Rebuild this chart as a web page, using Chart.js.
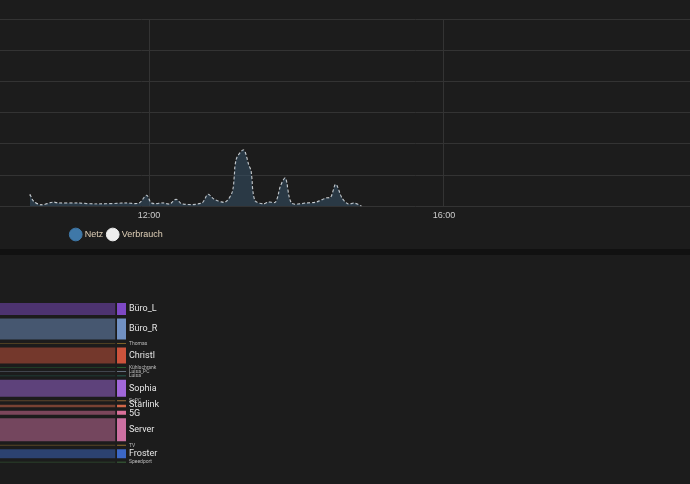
<!DOCTYPE html>
<html>
<head>
<meta charset="utf-8">
<script src="https://cdn.jsdelivr.net/npm/chart.js@4.4.1/dist/chart.umd.min.js"></script>
<style>
  body { margin: 0; background: #111; width: 690px; height: 484px; overflow: hidden; position: relative; font-family: Roboto, sans-serif; }
  .card { position: absolute; left: 0; width: 690px; background: #1c1c1c; overflow: hidden; }
  #top { top: 0; height: 249px; }
  #bottom { top: 255px; height: 229px; }
  #lineWrap { position: absolute; left: -456px; top: 0; width: 1146px; height: 249px; }
  #flowWrap { position: absolute; left: 0; top: 0; width: 690px; height: 229px; }
</style>
</head>
<body>
<div class="card" id="top"><div id="lineWrap"><canvas id="line"></canvas></div></div>
<div class="card" id="bottom"><div id="flowWrap"><canvas id="flow"></canvas></div></div>
<script>
// power over the day (W)
const times = ['10:23','10:26','10:32','10:42','10:46','11:02','11:17','11:41','11:52','11:58',
  '12:02','12:12','12:17','12:22','12:27','12:43','12:48','12:53','13:02','13:08',
  '13:11','13:17','13:21','13:23','13:26','13:33','13:37','13:43','13:47','13:51',
  '13:56','14:08','14:16','14:24','14:28','14:32','14:37','14:42','14:47','14:53'];
const netz = [190,80,20,65,50,50,35,50,50,175,
  50,50,35,110,35,50,190,110,65,240,
  750,900,670,560,95,35,65,65,320,450,
  50,50,65,130,145,350,130,35,50,0];
const verbrauch = netz.slice();
const timeTicks = ['04:00','08:00','12:00','16:00'];

// devices in the flow view (W)
const devices = ['Büro_L','Büro_R','Thomas','Christl','Kühlschrank','Luisa_PC','Luisa','Sophia',
  'SoPC','Starlink','5G','Server','TV','Froster','Speedport'];
const deviceWatts = [48,84,4,64,3,3,3,68,4,10,16,92,4,36,3];
const deviceColors = ['#8a4fd8','#7b9fd6','#8a6a2a','#e05a40','#2e7a3a','#8a9ab0','#2a7a68','#b070f0',
  '#b07a40','#e8704f','#f07aa8','#e07ab0','#a07a30','#4070d8','#4a8a4a'];

const toMin = s => { const [h, m] = s.split(':').map(Number); return h * 60 + m; };
const fmt = v => String(Math.floor(v / 60)).padStart(2, '0') + ':' + String(v % 60).padStart(2, '0');
const tickMins = timeTicks.map(toMin);

new Chart(document.getElementById('line'), {
  type: 'line',
  data: {
    datasets: [
      { label: 'Netz', data: times.map((t, i) => ({ x: toMin(t), y: netz[i] })),
        fill: 'origin', backgroundColor: 'rgba(55,85,110,0.5)', borderWidth: 0,
        pointRadius: 0, tension: 0.3 },
      { label: 'Verbrauch', data: times.map((t, i) => ({ x: toMin(t), y: verbrauch[i] })),
        fill: false, borderColor: '#e6e6e6', borderDash: [3, 2], borderWidth: 1.2,
        pointRadius: 0, tension: 0.3 }
    ]
  },
  options: {
    animation: false, responsive: true, maintainAspectRatio: false,
    layout: { padding: { top: 19, left: 0, right: 0, bottom: 0 } },
    scales: {
      x: { type: 'linear', min: 267.3, max: 1160.3,
        afterBuildTicks: s => { s.ticks = tickMins.map(v => ({ value: v })); },
        ticks: { color: '#ccc', font: { size: 9 }, callback: v => fmt(v), maxRotation: 0, padding: 4 },
        grid: { color: '#333', drawTicks: false }, border: { display: false } },
      y: { min: 0, max: 3000, afterFit: s => { s.width = 0; },
        ticks: { display: false, stepSize: 500 },
        grid: { color: '#333', drawTicks: false }, border: { display: false } }
    },
    plugins: {
      legend: { position: 'bottom',
        labels: { color: '#e0d0b8', font: { size: 9 }, usePointStyle: true, pointStyle: 'circle',
          boxWidth: 10, boxHeight: 10, padding: 5,
          generateLabels: c => c.data.datasets.map((d, i) => ({
            text: d.label, fillStyle: i === 0 ? '#3f78a8' : '#eeeeee',
            strokeStyle: i === 0 ? '#3f78a8' : '#eeeeee', pointStyle: 'circle',
            fontColor: '#e0d0b8', datasetIndex: i })) } },
      tooltip: { enabled: false }
    }
  }
});

// stacked bands with a gap between them
const gap = 14;
let acc = 0;
const tops = deviceWatts.map(w => { const t = acc; acc += w + gap; return t; });
const hexA = (hex, a) => {
  const n = parseInt(hex.slice(1), 16);
  return `rgba(${n >> 16},${(n >> 8) & 255},${n & 255},${a})`;
};
const flowSets = [];
devices.forEach((d, i) => {
  const top = tops[i], bot = top + deviceWatts[i];
  flowSets.push({ data: [{ x: -5, y: bot }, { x: 115.5, y: bot }], fill: { value: top },
    backgroundColor: hexA(deviceColors[i], 0.45), borderWidth: 0, pointRadius: 0 });
  flowSets.push({ data: [{ x: 117, y: bot }, { x: 126, y: bot }], fill: { value: top },
    backgroundColor: hexA(deviceColors[i], 0.9), borderWidth: 0, pointRadius: 0 });
});

const labelPlugin = {
  id: 'labels',
  afterDatasetsDraw(chart) {
    const { ctx, scales: { x, y } } = chart;
    ctx.save();
    ctx.textBaseline = 'middle';
    devices.forEach((d, i) => {
      const big = deviceWatts[i] >= 8;
      ctx.font = (big ? 9 : 5) + 'px Roboto, sans-serif';
      ctx.fillStyle = big ? '#e6e6e6' : '#bbbbbb';
      let cy = y.getPixelForValue(tops[i] + deviceWatts[i] / 2);
      if (d === 'Starlink') cy -= 1;
      if (d === '5G') cy += 1;
      ctx.fillText(d, x.getPixelForValue(129), cy);
    });
    ctx.restore();
  }
};

new Chart(document.getElementById('flow'), {
  type: 'line',
  data: { datasets: flowSets },
  options: {
    animation: false, responsive: true, maintainAspectRatio: false,
    layout: { padding: 0 },
    scales: {
      x: { type: 'linear', min: 0, max: 690, display: false },
      y: { min: -192, max: -192 + 229 * 4, reverse: true, display: false }
    },
    plugins: { legend: { display: false }, tooltip: { enabled: false } }
  },
  plugins: [labelPlugin]
});
</script>
</body>
</html>
